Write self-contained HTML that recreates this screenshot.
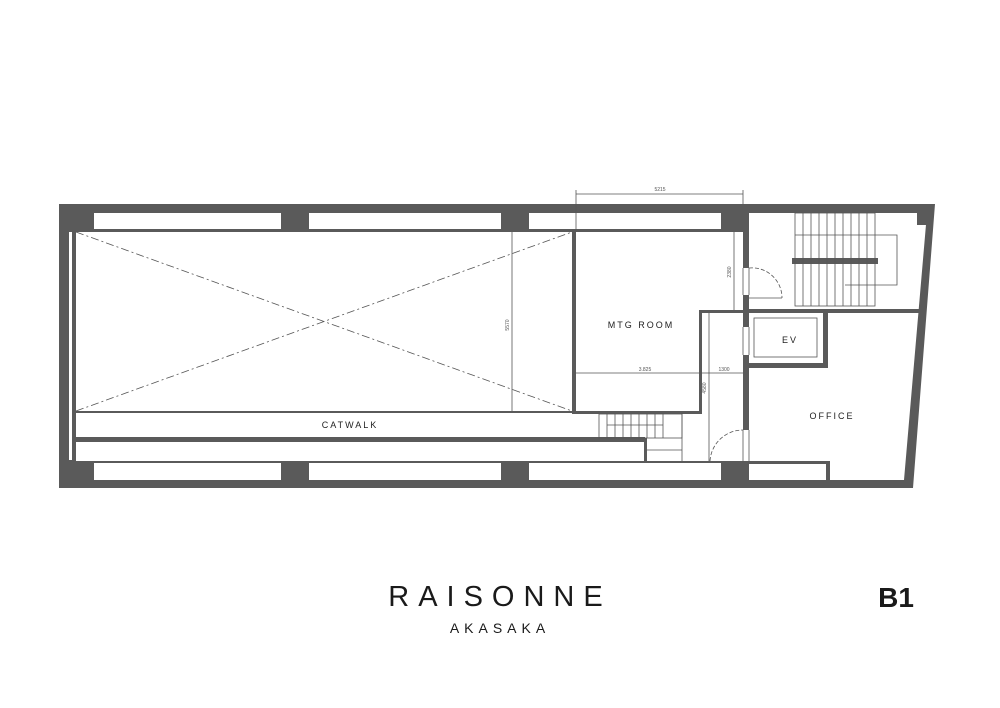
<!DOCTYPE html>
<html><head><meta charset="utf-8"><style>
html,body{margin:0;padding:0;background:#fff;width:1000px;height:708px;overflow:hidden}
svg{display:block}
</style></head><body>
<svg width="1000" height="708" viewBox="0 0 1000 708" xmlns="http://www.w3.org/2000/svg" font-family="Liberation Sans, sans-serif">
<g fill="#5a5a5a">
 <!-- top wall -->
 <rect x="59" y="204" width="690" height="28"/>
 <!-- left wall -->
 <rect x="59" y="204" width="17" height="284"/>
 <!-- bottom wall -->
 <rect x="59" y="461" width="771" height="27"/>
 <!-- right stair room top & slanted wall -->
 <polygon points="743,204 935,204 913,488 826,488 826,480 904,480 927,213 749,213 749,232 743,232"/>
 <rect x="917" y="213" width="10" height="12"/>
 <!-- vertical wall 743-749 segments -->
 <rect x="743" y="232" width="6" height="36"/>
 <rect x="743" y="295" width="6" height="32"/>
 <rect x="743" y="355" width="6" height="75"/>
 <!-- horizontal wall at 310 -->
 <rect x="699" y="310" width="50" height="3"/>
 <rect x="749" y="309" width="171" height="4"/>
 <!-- EV walls -->
 <rect x="749" y="363" width="79" height="5"/>
 <rect x="823" y="313" width="5" height="55"/>
 <!-- MTG walls -->
 <rect x="699" y="310" width="3" height="104"/>
 <rect x="572" y="411" width="130" height="3"/>
 <rect x="572" y="232" width="4" height="182"/>
 <!-- void bottom / catwalk lines -->
 <rect x="76" y="411" width="500" height="2"/>
 <rect x="76" y="437" width="569" height="5"/>
 <rect x="644" y="438" width="3" height="23"/>
 <!-- bottom right windows frame -->
 <rect x="826" y="461" width="4" height="20"/>
 <!-- stair landing -->
 <rect x="792" y="258" width="86" height="6"/>
</g>
<g fill="#fff">
 <rect x="94" y="213" width="187" height="16"/>
 <rect x="309" y="213" width="192" height="16"/>
 <rect x="529" y="213" width="192" height="16"/>
 <rect x="94" y="463" width="187" height="17"/>
 <rect x="309" y="463" width="192" height="17"/>
 <rect x="529" y="463" width="192" height="17"/>
 <rect x="749" y="464" width="77" height="16"/>
 <rect x="69" y="232" width="3" height="228"/>
</g>
<g stroke="#555" stroke-width="0.8" fill="none">
 <!-- diagonals -->
 <line x1="76" y1="232" x2="572" y2="411" stroke-dasharray="8,3,2,3"/>
 <line x1="76" y1="411" x2="572" y2="232" stroke-dasharray="8,3,2,3"/>
 <!-- dimension lines -->
 <line x1="512" y1="232" x2="512" y2="411"/>
 <line x1="576" y1="194" x2="743" y2="194"/>
 <line x1="576" y1="190" x2="576" y2="232"/>
 <line x1="743" y1="190" x2="743" y2="204"/>
 <line x1="734" y1="232" x2="734" y2="310"/>
 <line x1="576" y1="373" x2="743" y2="373"/>
 <line x1="709" y1="313" x2="709" y2="461"/>
 <line x1="682" y1="413" x2="682" y2="461"/>
 <line x1="646" y1="450" x2="682" y2="450"/>
 <!-- stairs right -->
 <rect x="795" y="213" width="80" height="93"/>
 <polyline points="795,235 897,235 897,285 845,285"/>
 <line x1="743" y1="268" x2="743" y2="295"/><line x1="749" y1="268" x2="749" y2="295"/>
 <line x1="749" y1="298" x2="782" y2="298"/>
 <path d="M749,268 A30,30 0 0 1 782,298" stroke-dasharray="4,2"/>
 <rect x="754" y="318" width="63" height="39"/>
 <line x1="743" y1="327" x2="743" y2="355"/><line x1="749" y1="327" x2="749" y2="355"/>
 <!-- lower stair -->
 <rect x="599" y="414" width="83" height="24"/>
 <line x1="743" y1="430" x2="743" y2="461"/><line x1="749" y1="430" x2="749" y2="461"/>
 <path d="M710,461 A33,33 0 0 1 743,430" stroke-dasharray="4,2"/>
</g>
<g stroke="#555" stroke-width="0.8">
 <line x1="803" y1="213" x2="803" y2="306"/><line x1="811" y1="213" x2="811" y2="306"/>
 <line x1="819" y1="213" x2="819" y2="306"/><line x1="827" y1="213" x2="827" y2="306"/>
 <line x1="835" y1="213" x2="835" y2="306"/><line x1="843" y1="213" x2="843" y2="306"/>
 <line x1="851" y1="213" x2="851" y2="306"/><line x1="859" y1="213" x2="859" y2="306"/>
 <line x1="867" y1="213" x2="867" y2="306"/>
 <line x1="607" y1="414" x2="607" y2="438"/><line x1="615" y1="414" x2="615" y2="438"/>
 <line x1="623" y1="414" x2="623" y2="438"/><line x1="631" y1="414" x2="631" y2="438"/>
 <line x1="639" y1="414" x2="639" y2="438"/><line x1="647" y1="414" x2="647" y2="438"/>
 <line x1="655" y1="414" x2="655" y2="438"/><line x1="663" y1="414" x2="663" y2="438"/>
 <line x1="607" y1="425" x2="663" y2="425"/>
</g>
<g fill="#222" font-size="9" letter-spacing="2" text-anchor="middle">
 <text x="350" y="428">CATWALK</text>
 <text x="641" y="328">MTG ROOM</text>
 <text x="790" y="343">EV</text>
 <text x="832" y="419">OFFICE</text>
</g>
<g fill="#555" font-size="5" text-anchor="middle">
 <text x="660" y="191">5215</text>
 <text x="645" y="371">3.825</text>
 <text x="724" y="371">1300</text>
 <text transform="translate(509,325) rotate(-90)">5570</text>
 <text transform="translate(731,272) rotate(-90)">2380</text>
 <text transform="translate(706,388) rotate(-90)">4580</text>
</g>
<text x="500" y="606" text-anchor="middle" font-size="29" letter-spacing="9" fill="#1a1a1a">RAISONNE</text>
<text x="500" y="633" text-anchor="middle" font-size="14" letter-spacing="5" fill="#1a1a1a">AKASAKA</text>
<text x="896" y="607" text-anchor="middle" font-size="28" font-weight="bold" fill="#1a1a1a">B1</text>
</svg>
</body></html>
